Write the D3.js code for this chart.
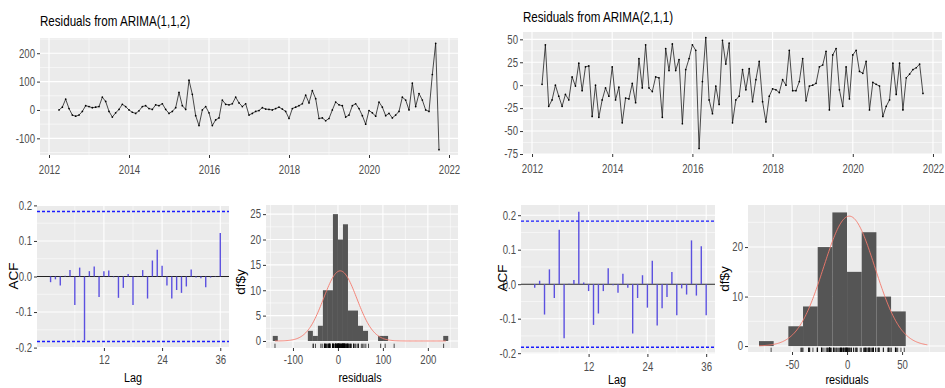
<!DOCTYPE html>
<html>
<head>
<meta charset="utf-8">
<script src="https://cdn.jsdelivr.net/npm/d3@7"></script>
<style>
  body { margin: 0; background: #fff; }
  svg { display: block; font-family: "Liberation Sans", Arial, sans-serif; }
  .tick text { fill: #4d4d4d; font-size: 12px; }
  .tick line { stroke: #333; }
</style>
</head>
<body>
<script>
// monthly residuals, first value April 2012
const startYear = 2012.25;

const resid112 = [
  0, 10, 38, 5, -18, -22, -18, -5, 15, 12, 8, 10, 12, 45, 30, -5, -25, -10, 2, 20,
  12, 0, -8, -12, -3, 12, 15, 5, 2, 18, 15, 22, 2, -12, -5, 8, 62, 15, 2, 105,
  55, -20, -55, 0, 12, -10, -55, -35, -28, 35, 20, 18, 22, 45, 25, 12, 22, -18, -12, -5,
  -2, 8, 3, 2, 0, 5, 10, 3, -5, -30, 5, 10, 15, 22, 52, 25, 68, 40, -30, -28,
  -38, -30, 0, 28, 18, 15, -25, -18, 15, 22, 5, -20, -50, -2, -10, -22, 28, 10, -20, -12,
  -28, -18, -5, 45, 35, 0, 95, 12, 58, 35, 0, -5, 125, 235, -140
];

const resid211 = [
  1, 44, -23, -16, 0, -12, -23, -10, -16, 9, -1, 24, -6, 20, 21, -34, 0, -35, -16, -3,
  -12, 20, -16, -2, -41, -14, -15, 2, -19, 29, -3, 44, -3, -7, 9, 8, -35, 40, 16, 45,
  16, 28, -42, 17, 29, 44, 38, -69, 4, 52, -16, -31, -1, -21, 49, 23, 46, -41, -16, -12,
  17, -5, 18, -18, 6, 26, -18, -40, -12, -4, -5, -8, 6, 0, 38, -6, -6, 4, 29, -17,
  -1, 0, 2, 20, 22, 37, -27, 33, 40, -5, -23, 20, -15, 33, 38, 15, 13, 26, -27, 3,
  1, -1, -34, -23, -16, 24, -10, 24, -27, 8, 12, 17, 19, 23, -9
];

// autocorrelations, lags 1..36
const acf112 = [
  -0.016, -0.008, -0.025, 0.002, 0.018, -0.080, 0.025, -0.180, 0.015, 0.028,
  -0.058, 0.015, 0.017, -0.002, -0.060, -0.032, 0.007, -0.080, 0.001, 0.018,
  -0.062, 0.045, 0.075, 0.030, -0.025, -0.062, -0.038, -0.046, -0.028, 0.020,
  -0.003, -0.005, -0.030, -0.003, 0.001, 0.122
];
const acf211 = [
  -0.010, 0.010, -0.088, 0.043, -0.040, 0.158, -0.157, 0.001, 0.012, 0.210,
  0.005, -0.020, -0.118, -0.085, -0.020, 0.046, -0.003, -0.025, 0.030, -0.010,
  -0.143, -0.040, 0.026, -0.068, 0.068, -0.120, -0.070, -0.037, 0.035, -0.090,
  -0.012, -0.030, 0.127, -0.033, 0.110, -0.090
];
const ciLimit = 1.96 / Math.sqrt(115);

// histogram counts, bins starting at histStart with width histWidth
const hist112Start = -144.95;
const hist112Width = 11.15;
const hist112Counts = [
  1, 0, 0, 0, 0, 0, 0, 2, 1, 3, 10, 10, 25, 20, 23, 6, 6, 3, 2, 0,
  0, 1, 1, 0, 0, 0, 0, 0, 0, 0, 0, 0, 0, 0, 1
];
const hist211Start = -80;
const hist211Width = 13.333;
const hist211Counts = [1, 0, 4, 8, 20, 27, 15, 23, 10, 7];

// fitted normal curves
const norm112 = { mean: 5, sd: 37, from: -140, to: 240 };
const norm211 = { mean: 2, sd: 23.3, from: -80, to: 73 };

// tick labels
const yearTicks = [2012, 2014, 2016, 2018, 2020, 2022];
const ts112Ticks = [-100, 0, 100, 200];
const ts211Ticks = [-75, -50, -25, 0, 25, 50];
const lagTicks = [12, 24, 36];
const acfTicks = [-0.2, -0.1, 0.0, 0.1, 0.2];
const hist112XTicks = [-100, 0, 100, 200];
const hist112YTicks = [0, 5, 10, 15, 20, 25];
const hist211XTicks = [-50, 0, 50];
const hist211YTicks = [0, 10, 20];

const W = 945, H = 388;
const squeeze = 0.8;

const svg = d3.select('body').append('svg')
  .attr('width', W)
  .attr('height', H);

// narrow text horizontally around its anchor, like the source image
function squish(sel) {
  sel.each(function () {
    const t = d3.select(this);
    const x = +t.attr('x') || 0;
    t.attr('transform', `translate(${x},0) scale(${squeeze},1) translate(${-x},0)`);
  });
}

function minorOf(ticks, domain) {
  const step = ticks[1] - ticks[0];
  const out = [];
  for (let i = -1; i < ticks.length; i++) {
    const v = ticks[0] + (i + 0.5) * step;
    if (v > domain[0] && v < domain[1]) out.push(v);
  }
  return out;
}

// grey panel with white grid, axes with ticks
function makePanel(p, xTicks, yTicks, xFmt, yFmt) {
  p.x = d3.scaleLinear().domain(p.xd).range([p.x0, p.x1]);
  p.y = d3.scaleLinear().domain(p.yd).range([p.y1, p.y0]);
  const g = svg.append('g');
  g.append('rect')
    .attr('x', p.x0).attr('y', p.y0)
    .attr('width', p.x1 - p.x0).attr('height', p.y1 - p.y0)
    .style('fill', '#ebebeb');

  const grid = g.append('g').style('stroke', '#fff');
  grid.selectAll('.vmin').data(minorOf(xTicks, p.xd)).enter().append('line')
    .attr('x1', d => p.x(d)).attr('x2', d => p.x(d))
    .attr('y1', p.y0).attr('y2', p.y1).style('stroke-width', 0.55);
  grid.selectAll('.hmin').data(minorOf(yTicks, p.yd)).enter().append('line')
    .attr('y1', d => p.y(d)).attr('y2', d => p.y(d))
    .attr('x1', p.x0).attr('x2', p.x1).style('stroke-width', 0.55);
  grid.selectAll('.vmaj').data(xTicks.filter(d => d >= p.xd[0] && d <= p.xd[1])).enter().append('line')
    .attr('x1', d => p.x(d)).attr('x2', d => p.x(d))
    .attr('y1', p.y0).attr('y2', p.y1).style('stroke-width', 1.1);
  grid.selectAll('.hmaj').data(yTicks.filter(d => d >= p.yd[0] && d <= p.yd[1])).enter().append('line')
    .attr('y1', d => p.y(d)).attr('y2', d => p.y(d))
    .attr('x1', p.x0).attr('x2', p.x1).style('stroke-width', 1.1);

  const xa = svg.append('g')
    .attr('transform', `translate(0,${p.y1})`)
    .call(d3.axisBottom(p.x).tickValues(xTicks).tickSize(3).tickPadding(p.pad || 3).tickFormat(xFmt));
  const ya = svg.append('g')
    .attr('transform', `translate(${p.x0},0)`)
    .call(d3.axisLeft(p.y).tickValues(yTicks).tickSize(3).tickPadding(2).tickFormat(yFmt));
  [xa, ya].forEach(a => {
    a.select('.domain').remove();
    a.attr('font-family', null).attr('font-size', null);
    squish(a.selectAll('text'));
  });
  p.g = g;
  return p;
}

function title(x, y, text) {
  svg.append('text')
    .attr('x', x).attr('y', y)
    .style('font-size', '14.5px')
    .style('fill', '#000')
    .text(text)
    .call(squish);
}

function axisTitle(x, y, text, rotate) {
  const t = svg.append('text')
    .attr('text-anchor', 'middle')
    .style('font-size', '13.5px')
    .style('fill', '#000')
    .text(text);
  if (rotate) {
    t.attr('transform', `translate(${x},${y}) rotate(-90)`);
  } else {
    t.attr('x', x).attr('y', y).call(squish);
  }
}

// residual time series
function drawSeries(p, values) {
  const pts = values.map((v, i) => ({ t: startYear + i / 12, v }));
  const line = d3.line().x(d => p.x(d.t)).y(d => p.y(d.v));
  p.g.append('path')
    .attr('d', line(pts))
    .style('fill', 'none')
    .style('stroke', '#111')
    .style('stroke-width', 0.75);
  p.g.selectAll('.pt').data(pts).enter().append('circle')
    .attr('cx', d => p.x(d.t)).attr('cy', d => p.y(d.v))
    .attr('r', 0.85)
    .style('fill', '#000');
}

function drawAcf(p, values) {
  const g = p.g;
  g.append('line')
    .attr('x1', p.x0).attr('x2', p.x1)
    .attr('y1', p.y(0)).attr('y2', p.y(0))
    .style('stroke', '#222').style('stroke-width', 1.1);
  g.selectAll('.bar').data(values).enter().append('line')
    .attr('x1', (d, i) => p.x(i + 1)).attr('x2', (d, i) => p.x(i + 1))
    .attr('y1', p.y(0)).attr('y2', d => p.y(d))
    .style('stroke', '#5b50e0').style('stroke-width', 1.4);
  [ciLimit, -ciLimit].forEach(c => {
    g.append('line')
      .attr('x1', p.x0).attr('x2', p.x1)
      .attr('y1', p.y(c)).attr('y2', p.y(c))
      .style('stroke', '#1a1aff').style('stroke-width', 1.3)
      .style('stroke-dasharray', '3,2');
  });
}

function drawHist(p, start, width, counts, values, norm) {
  const g = p.g;
  const bins = counts.map((c, i) => ({ a: start + i * width, b: start + (i + 1) * width, c }))
    .filter(d => d.c > 0);
  g.selectAll('.bin').data(bins).enter().append('rect')
    .attr('x', d => p.x(d.a))
    .attr('width', d => p.x(d.b) - p.x(d.a))
    .attr('y', d => p.y(d.c))
    .attr('height', d => p.y(0) - p.y(d.c))
    .style('fill', '#555');

  // rug
  g.selectAll('.rug').data(values).enter().append('line')
    .attr('x1', d => p.x(d)).attr('x2', d => p.x(d))
    .attr('y1', p.y1 - 4.3).attr('y2', p.y1)
    .style('stroke', '#000').style('stroke-width', 0.7);

  // normal density scaled to counts
  const n = values.length;
  const xs = d3.range(201).map(i => norm.from + (norm.to - norm.from) * i / 200);
  const dens = xs.map(x => ({
    x,
    y: n * width * Math.exp(-0.5 * ((x - norm.mean) / norm.sd) ** 2) / (norm.sd * Math.sqrt(2 * Math.PI))
  }));
  g.append('path')
    .attr('d', d3.line().x(d => p.x(d.x)).y(d => p.y(d.y))(dens))
    .style('fill', 'none')
    .style('stroke', '#f4796c')
    .style('stroke-width', 0.9);
}

const yearFmt = d => String(d);
const numFmt = d => String(d);
const acfFmt = d => d.toFixed(1);

// left figure: ARIMA(1,1,2)
const ts112 = makePanel({ x0: 40, x1: 458, y0: 38, y1: 155, pad: 7, xd: [2011.775, 2022.225], yd: [-158.75, 253.75] },
  yearTicks, ts112Ticks, yearFmt, numFmt);
drawSeries(ts112, resid112);
title(40, 26, 'Residuals from ARIMA(1,1,2)');

const acfL = makePanel({ x0: 37, x1: 229, y0: 205, y1: 348, pad: 4, xd: [-1.8, 37.8], yd: [-0.2011, 0.2011] },
  lagTicks, acfTicks, numFmt, acfFmt);
drawAcf(acfL, acf112);
axisTitle(133, 382, 'Lag');
axisTitle(18, 276, 'ACF', true);

const histL = makePanel({ x0: 266, x1: 458, y0: 205, y1: 348, pad: 4, xd: [-160, 267], yd: [-1.38, 26.8] },
  hist112XTicks, hist112YTicks, numFmt, numFmt);
drawHist(histL, hist112Start, hist112Width, hist112Counts, resid112, norm112);
axisTitle(360, 382, 'residuals');
axisTitle(245, 282, 'df$y', true);

// right figure: ARIMA(2,1,1)
const ts211 = makePanel({ x0: 523, x1: 942, y0: 32, y1: 154, pad: 7, xd: [2011.775, 2022.225], yd: [-75, 58] },
  yearTicks, ts211Ticks, yearFmt, numFmt);
drawSeries(ts211, resid211);
title(523, 22, 'Residuals from ARIMA(2,1,1)');

const acfR = makePanel({ x0: 521, x1: 715, y0: 205, y1: 354, pad: 5, xd: [-1.8, 37.8], yd: [-0.2024, 0.2296] },
  lagTicks, acfTicks, numFmt, acfFmt);
drawAcf(acfR, acf211);
axisTitle(617, 384, 'Lag');
axisTitle(507, 278, 'ACF', true);

const histR = makePanel({ x0: 748, x1: 945, y0: 205, y1: 352, pad: 5, xd: [-90, 89], yd: [-1.2, 28.5] },
  hist211XTicks, hist211YTicks, numFmt, numFmt);
drawHist(histR, hist211Start, hist211Width, hist211Counts, resid211, norm211);
axisTitle(847, 384, 'residuals');
axisTitle(729, 279, 'df$y', true);
</script>
</body>
</html>
